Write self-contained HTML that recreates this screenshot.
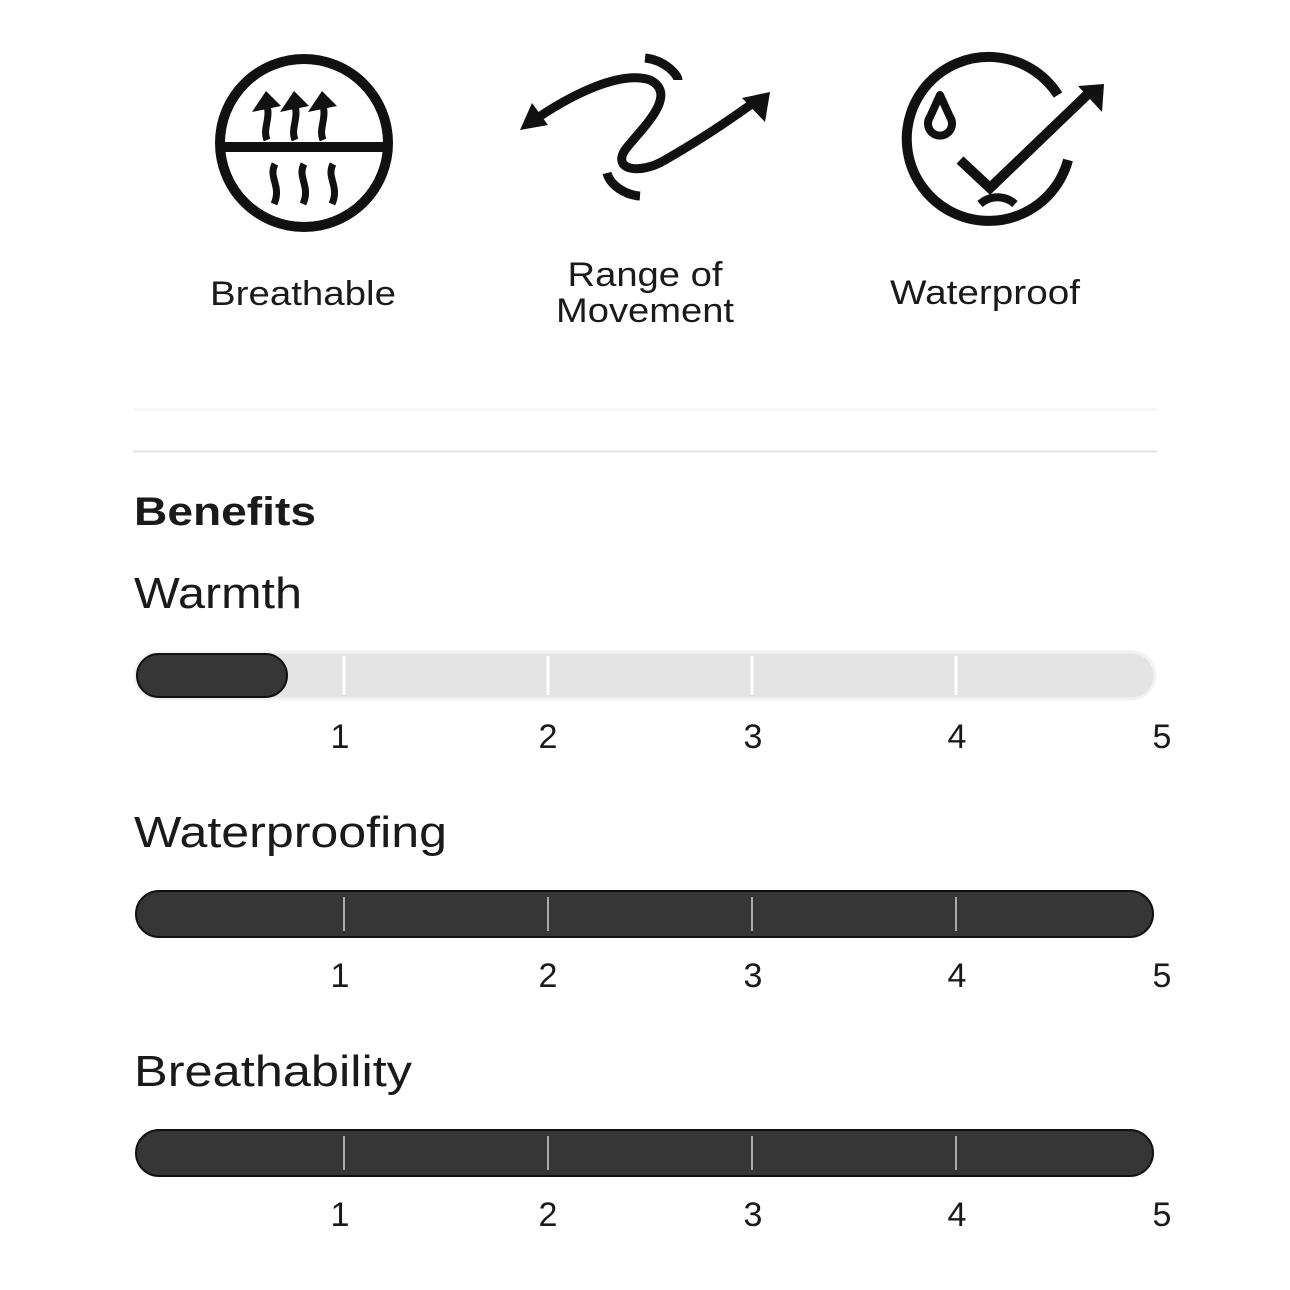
<!DOCTYPE html>
<html><head><meta charset="utf-8"><style>
html,body{margin:0;padding:0;background:#fff;}
svg{display:block;}
text{font-family:"Liberation Sans",sans-serif;fill:#1a1a1a;}
</style></head><body>
<svg width="1290" height="1290" viewBox="0 0 1290 1290" xmlns="http://www.w3.org/2000/svg">
<!-- Icon 1 -->
<g fill="none" stroke="#111" stroke-width="10">
<circle cx="304" cy="143" r="84"/>
<line x1="220" y1="147" x2="388" y2="147"/>
<g stroke-width="7">
<path d="M267 140 C262 128 272 118 266 102"/>
<path d="M295 140 C290 128 300 118 294 102"/>
<path d="M323 140 C318 128 328 118 322 102"/>
<path d="M275 164 C268 178 282 186 274 204"/>
<path d="M304 164 C297 178 311 186 303 204"/>
<path d="M333 164 C326 178 340 186 332 204"/>
</g>
</g>
<g fill="#111">
<polygon points="252,112 266,91 281,106"/>
<polygon points="280,112 294,91 309,106"/>
<polygon points="308,112 322,91 337,106"/>
</g>
<!-- Icon 2 -->
<g fill="none" stroke="#111" stroke-width="9">
<path d="M530 123 C570 95 620 70 650 80 C680 95 640 130 625 150 C612 170 640 175 665 160 C700 140 730 120 760 98"/>
<path d="M645 58 C665 60 678 75 678 80"/>
<path d="M607 173 C610 185 625 195 640 196"/>
</g>
<polygon fill="#111" points="520,130 532,103 548,125"/>
<polygon fill="#111" points="770,92 765,122 742,98"/>
<!-- Icon 3 -->
<g fill="none" stroke="#111" stroke-width="10">
<path d="M1058 95 A82 82 0 1 0 1068 160"/>
<path d="M960 160 L990 188 L1090 92"/>
<path d="M940 95 L930 117 A12 12 0 1 0 950 117 Z" stroke-width="8" stroke-linejoin="round"/>
<path d="M980 204 C990 195 1005 195 1015 204" stroke-width="8"/>
</g>
<polygon fill="#111" points="1078,86 1104,84 1102,112"/>
<!-- Icon labels -->
<g font-size="34" text-anchor="middle">
<text x="303" y="305" textLength="186" lengthAdjust="spacingAndGlyphs">Breathable</text>
<text x="645" y="286" textLength="155" lengthAdjust="spacingAndGlyphs">Range of</text>
<text x="645" y="322" textLength="178" lengthAdjust="spacingAndGlyphs">Movement</text>
<text x="985" y="304" textLength="190" lengthAdjust="spacingAndGlyphs">Waterproof</text>
</g>
<line x1="133" y1="409.5" x2="1157" y2="409.5" stroke="#f2f2f2" stroke-width="2"/>
<line x1="133" y1="451.5" x2="1157" y2="451.5" stroke="#e2e2e2" stroke-width="2"/>
<text x="134" y="525" font-size="40" font-weight="bold" fill="#111" textLength="182" lengthAdjust="spacingAndGlyphs">Benefits</text>
<text x="134" y="608" font-size="44" textLength="168" lengthAdjust="spacingAndGlyphs">Warmth</text>
<text x="134" y="847" font-size="44" textLength="313" lengthAdjust="spacingAndGlyphs">Waterproofing</text>
<text x="134" y="1086" font-size="44" textLength="278" lengthAdjust="spacingAndGlyphs">Breathability</text>
<!-- Bar 1 -->
<rect x="135" y="652" width="1020" height="47" rx="23.5" fill="#e4e4e4" stroke="#f2f2f2" stroke-width="3"/>
<rect x="137" y="654" width="150" height="43" rx="21.5" fill="#363636" stroke="#111" stroke-width="2"/>
<g stroke="#fff" stroke-width="3"><line x1="344" y1="656" x2="344" y2="695"/><line x1="548" y1="656" x2="548" y2="695"/><line x1="752" y1="656" x2="752" y2="695"/><line x1="956" y1="656" x2="956" y2="695"/></g>
<!-- Bar 2 -->
<rect x="136" y="891" width="1017" height="46" rx="23" fill="#363636" stroke="#111" stroke-width="2"/>
<g stroke="#aaa" stroke-width="2"><line x1="344" y1="897" x2="344" y2="931"/><line x1="548" y1="897" x2="548" y2="931"/><line x1="752" y1="897" x2="752" y2="931"/><line x1="956" y1="897" x2="956" y2="931"/></g>
<!-- Bar 3 -->
<rect x="136" y="1130" width="1017" height="46" rx="23" fill="#363636" stroke="#111" stroke-width="2"/>
<g stroke="#aaa" stroke-width="2"><line x1="344" y1="1136" x2="344" y2="1170"/><line x1="548" y1="1136" x2="548" y2="1170"/><line x1="752" y1="1136" x2="752" y2="1170"/><line x1="956" y1="1136" x2="956" y2="1170"/></g>
<g font-size="34" text-anchor="middle">
<text x="340" y="748">1</text><text x="548" y="748">2</text><text x="753" y="748">3</text><text x="957" y="748">4</text><text x="1162" y="748">5</text>
<text x="340" y="987">1</text><text x="548" y="987">2</text><text x="753" y="987">3</text><text x="957" y="987">4</text><text x="1162" y="987">5</text>
<text x="340" y="1226">1</text><text x="548" y="1226">2</text><text x="753" y="1226">3</text><text x="957" y="1226">4</text><text x="1162" y="1226">5</text>
</g>
</svg>
</body></html>
